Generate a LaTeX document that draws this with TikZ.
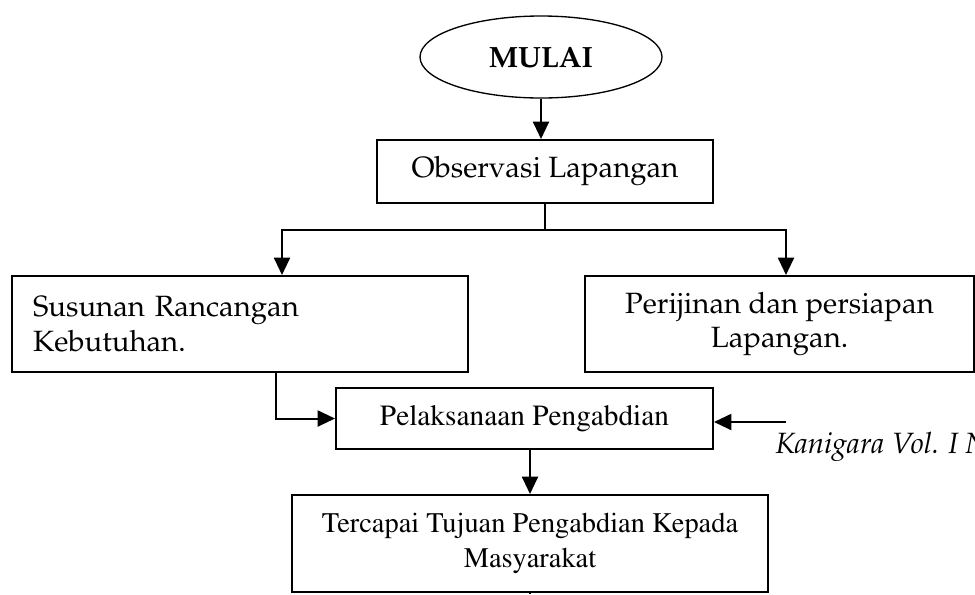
\documentclass[tikz,border=0pt]{standalone}
\usepackage[T1]{fontenc}
\usepackage{tikz}
\usetikzlibrary{arrows,arrows.meta,shapes.geometric}
\usetikzlibrary{positioning}

\begin{document}
\begin{tikzpicture}[x=0.75pt,y=-0.75pt,
  box/.style={rectangle,draw=black,line width=1.5pt,inner sep=0pt},
  pala/.style={font=\fontfamily{ppl}\fontsize{22}{26}\selectfont},
  tms/.style={font=\fontfamily{ptm}\fontsize{22}{26}\selectfont},
  arr/.style={-{Triangle[width=12pt,length=13pt]},line width=1.5pt}]
\useasboundingbox (0,0) rectangle (975,594);
\node at (541,57)[ellipse,draw=black,line width=1pt,minimum width=181.5pt,minimum height=61.5pt,font=\fontfamily{ppl}\bfseries\fontsize{22}{26}\selectfont](mulai){MULAI};
\node at (545,171.5)[box,pala,minimum width=252pt,minimum height=47.25pt](obs){Observasi Lapangan};
\node at (240,324)[box,pala,minimum width=342pt,minimum height=72pt,inner xsep=15.75pt,text width=310.5pt,align=left](sus){Susunan Rancangan\\Kebutuhan.};
\node at (779.5,324)[box,pala,minimum width=291.75pt,minimum height=72pt,align=center](per){Perijinan dan persiapan\\Lapangan.};
\node at (524.5,418.5)[box,tms,minimum width=282.75pt,minimum height=45.75pt](pel){Pelaksanaan Pengabdian};
\node at (530,543.5)[box,font=\fontfamily{ptm}\fontsize{21.3}{26}\selectfont,minimum width=357pt,minimum height=72.75pt,align=center](ter){Tercapai Tujuan Pengabdian Kepada\\Masyarakat};
\node at (775,453)[anchor=base west,inner sep=0pt,font=\fontfamily{ppl}\itshape\fontsize{22}{26}\selectfont](kan){Kanigara Vol. I N};
% connectors
\coordinate (br) at (545,230);
\coordinate (bl) at (282,230);
\coordinate (bk) at (786,230);
\coordinate (sl) at (276,372);
\coordinate (kr) at (786,422);
\coordinate (tl) at (530,594);
\draw[arr] (mulai.south) -- (mulai.south |- obs.north);
\draw[line width=1.5pt] (obs.south) -- (br);
\draw[arr] (br) -- (bl) -- (bl |- sus.north);
\draw[arr] (br) -- (bk) -- (bk |- per.north);
\draw[arr] (sl) |- (pel.west);
\draw[arr] (kr) -- (kr -| pel.east);
\draw[arr] (ter.north |- pel.south) -- (ter.north);
\draw[line width=1.5pt] (ter.south) -- (tl);
\end{tikzpicture}
\end{document}
